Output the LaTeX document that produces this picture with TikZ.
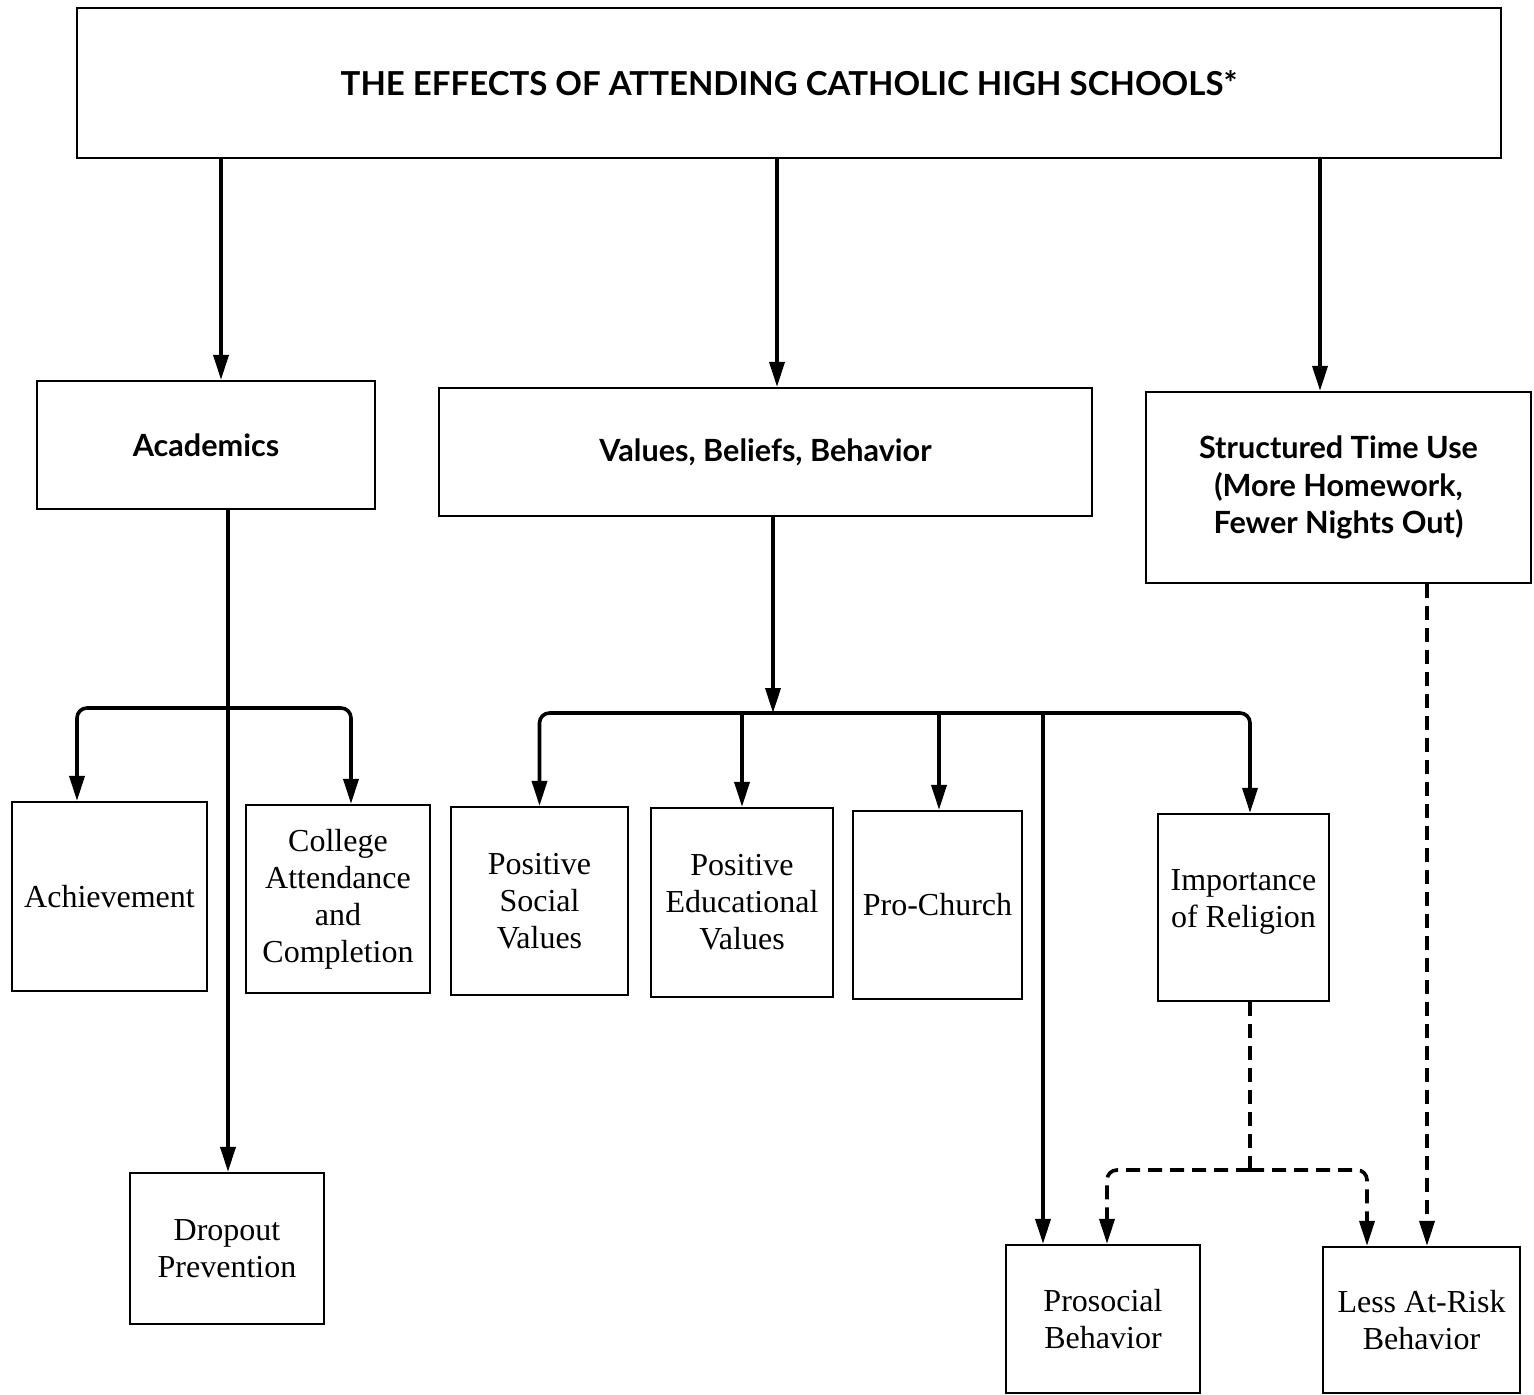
\documentclass[tikz,border=0pt]{standalone}
\usepackage{fontspec}
\setmainfont{Liberation Serif}
\newfontfamily\headfont{Lato}
\usetikzlibrary{arrows.meta, positioning, calc}

\begin{document}
\begin{tikzpicture}[
        x=0.5pt, y=-0.5pt,
        box/.style={rectangle, draw, line width=1.1pt, inner sep=0pt, align=center, font=\fontsize{16}{18.5}\selectfont},
        headbox/.style={box, font=\headfont\bfseries\fontsize{15.3}{18.7}\selectfont},
        arrow/.style={-{Triangle[length=12.5pt, width=7.5pt]}, line width=1.8pt},
        dasharrow/.style={arrow, dash pattern=on 7pt off 4pt},
        link/.style={line width=1.8pt, dash pattern=on 7pt off 4pt}
    ]
        \useasboundingbox (0,0) rectangle (1534,1395);

        % Top node
        \node[headbox, font=\headfont\bfseries\fontsize{16.5}{20}\selectfont, minimum width=712pt, minimum height=75pt] (title) at (789,83) {THE EFFECTS OF ATTENDING CATHOLIC HIGH SCHOOLS*};

        % Main areas
        \node[headbox, minimum width=169pt, minimum height=64pt] (acad) at (206,445) {Academics};
        \node[headbox, minimum width=326.5pt, minimum height=64pt] (vals) at (765.5,452) {Values, Beliefs, Behavior};
        \node[headbox, minimum width=192.5pt, minimum height=95.5pt] (stru) at (1338.5,487.5) {Structured Time Use\\(More Homework,\\Fewer Nights Out)};

        % Outcome nodes
        \node[box, minimum width=97.5pt, minimum height=94.5pt] (ach) at (109.5,896.5) {Achievement};
        \node[box, minimum width=92pt, minimum height=94pt] (col) at (338,899) {College\\Attendance\\and\\Completion};
        \node[box, minimum width=88.5pt, minimum height=94pt] (psv) at (539.5,901) {Positive\\Social\\Values};
        \node[box, minimum width=91pt, minimum height=94.5pt] (pev) at (742,902.5) {Positive\\Educational\\Values};
        \node[box, minimum width=84.5pt, minimum height=94pt] (pro) at (937.5,905) {Pro-Church};
        \node[box, minimum width=85.5pt, minimum height=93.5pt] (imp) at (1243.5,907.5) {Importance\\of Religion\\[-10pt]};
        \node[box, minimum width=97pt, minimum height=75.5pt] (drop) at (227,1248.5) {Dropout\\Prevention};
        \node[box, minimum width=97pt, minimum height=74pt] (psb) at (1103,1319) {Prosocial\\Behavior};
        \node[box, minimum width=98.5pt, minimum height=73pt] (risk) at (1421.5,1320) {Less At-Risk\\Behavior};

        % Junctions
        \coordinate (ajoin) at (228,708);
        \coordinate (vjoin) at (773,713);
        \coordinate (ijoin) at (1250,1170);

        % Arrows from the top
        \draw[arrow] (title.south -| 221,0) -- (acad.north -| 221,0);
        \draw[arrow] (title.south -| 777,0) -- (vals.north -| 777,0);
        \draw[arrow] (title.south -| 1320,0) -- (stru.north -| 1320,0);

        % Academics
        \draw[arrow] (acad.south -| ajoin) -- (drop.north -| ajoin);
        \draw[arrow, rounded corners=5pt] (ajoin) -| (ach.north -| 77,0);
        \draw[arrow, rounded corners=5pt] (ajoin) -| (col.north -| 351,0);

        % Values, beliefs, behavior
        \draw[arrow] (vals.south -| vjoin) -- (vjoin);
        \draw[arrow, rounded corners=5pt] (vjoin) -| (psv.north);
        \draw[arrow] (vjoin) -| (pev.north);
        \draw[arrow] (vjoin) -| (pro.north -| 939,0);
        \draw[arrow] (vjoin) -| (psb.north -| 1043,0);
        \draw[arrow, rounded corners=5pt] (vjoin) -| (imp.north -| 1250,0);

        % Dashed links
        \draw[link] (imp.south -| ijoin) -- (ijoin);
        \draw[dasharrow, rounded corners=5pt] (ijoin) -| (psb.north -| 1107,0);
        \draw[dasharrow, rounded corners=5pt] (ijoin) -| (risk.north -| 1367,0);
        \draw[dasharrow] (stru.south -| 1427,0) -- (risk.north -| 1427,0);
    \end{tikzpicture}
\end{document}
